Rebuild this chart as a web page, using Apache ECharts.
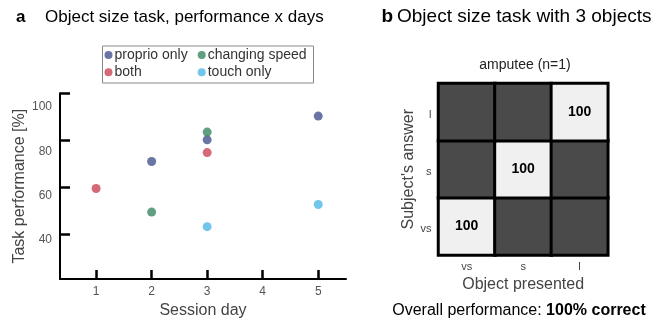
<!DOCTYPE html>
<html>
<head>
<meta charset="utf-8">
<script src="https://cdn.jsdelivr.net/npm/echarts@6/dist/echarts.min.js"></script>
<style>html,body{margin:0;padding:0;background:#fff;}#c{width:655px;height:324px;}</style>
</head>
<body>
<div id="c"></div>
<script>
// ---- Panel a data ----
const dayTicks = [1, 2, 3, 4, 5];
const perfTicks = [40, 60, 80, 100];
const proprioOnly = [[2, 71], [3, 80.2], [5, 90.3]];
const both = [[1, 59.5], [3, 74.8]];
const changingSpeed = [[2, 49.5], [3, 83.5]];
const touchOnly = [[3, 43.3], [5, 52.7]];
// ---- Panel b data ----
const objectsPresented = ['vs', 's', 'l'];
const subjectAnswers = ['vs', 's', 'l'];
const confusion = [
  [0, 0, 100], [1, 0, 0], [2, 0, 0],
  [0, 1, 0], [1, 1, 100], [2, 1, 0],
  [0, 2, 0], [1, 2, 0], [2, 2, 100]
];

const FONT = '"Liberation Sans", Arial, Helvetica, sans-serif';
const labelShift = {100: 13, 80: 11, 60: 8, 40: 5};
const yRich = {};
perfTicks.forEach(v => { yRich['l' + v] = {padding: [labelShift[v] * 2, 0, 0, 0], fontSize: 12, color: '#555', fontFamily: FONT}; });

const chart = echarts.init(document.getElementById('c'), null, {renderer: 'canvas'});
chart.setOption({
  backgroundColor: '#fff',
  animation: false,
  textStyle: {fontFamily: FONT},
  title: [
    {text: 'a', left: 16, top: 9, padding: 0, textStyle: {fontSize: 17, fontWeight: 'bold', color: '#000', lineHeight: 17, fontFamily: FONT}},
    {text: 'Object size task, performance x days', left: 45, top: 9, padding: 0, textStyle: {fontSize: 17, fontWeight: 'normal', color: '#000', lineHeight: 17, fontFamily: FONT}},
    {text: 'b', left: 381.5, top: 7.5, padding: 0, textStyle: {fontSize: 19, fontWeight: 'bold', color: '#000', lineHeight: 19, fontFamily: FONT}},
    {text: 'Object size task with 3 objects', left: 397, top: 7.5, padding: 0, textStyle: {fontSize: 19, fontWeight: 'normal', color: '#000', lineHeight: 19, fontFamily: FONT}},
    {text: 'amputee (n=1)', left: 525, top: 58, padding: 0, textAlign: 'center', textStyle: {fontSize: 14, fontWeight: 'normal', color: '#222', lineHeight: 14, fontFamily: FONT}},
    {text: '{r|Overall performance: }{b|100% correct}', left: 519, top: 303, padding: 0, textAlign: 'center',
     textStyle: {fontSize: 16, lineHeight: 16, fontWeight: 'normal', fontFamily: FONT, rich: {
       r: {fontSize: 16, color: '#000', fontWeight: 'normal', fontFamily: FONT},
       b: {fontSize: 16, color: '#000', fontWeight: 'bold', fontFamily: FONT}}}}
  ],
  legend: [
    {orient: 'vertical', left: 104.5, top: 48, padding: 0, itemGap: 3.3, itemWidth: 8, itemHeight: 8, icon: 'circle',
     data: ['proprio only', 'both'],
     textStyle: {fontSize: 14, color: '#333', lineHeight: 14, fontFamily: FONT, padding: [0, 0, 0, -3]}},
    {orient: 'vertical', left: 197.7, top: 48, padding: 0, itemGap: 3.3, itemWidth: 8, itemHeight: 8, icon: 'circle',
     data: ['changing speed', 'touch only'],
     textStyle: {fontSize: 14, color: '#333', lineHeight: 14, fontFamily: FONT, padding: [0, 0, 0, -3]}}
  ],
  graphic: [
    {type: 'rect', left: 100, top: 43.5, shape: {width: 211, height: 37}, style: {fill: 'none', stroke: '#8a8a8a', lineWidth: 1}, z: 10}
  ],
  grid: [
    {left: 60, top: 93.3, width: 286, height: 187.4},
    {left: 438.5, top: 83.5, width: 169.3, height: 171.5}
  ],
  xAxis: [
    {gridIndex: 0, type: 'value', min: 0.35, max: 5.5,
     name: 'Session day', nameLocation: 'middle', nameGap: 19,
     nameTextStyle: {fontSize: 16, color: '#444', fontFamily: FONT},
     axisLine: {show: true, lineStyle: {color: '#000', width: 2}},
     axisTick: {show: true, inside: true, length: 9, customValues: dayTicks, lineStyle: {color: '#000', width: 2.5}},
     axisLabel: {show: true, customValues: dayTicks, margin: 7, fontSize: 12, color: '#555', fontFamily: FONT},
     splitLine: {show: false}},
    {gridIndex: 1, type: 'category', data: objectsPresented,
     name: 'Object presented', nameLocation: 'middle', nameGap: 21,
     nameTextStyle: {fontSize: 16, color: '#444', fontFamily: FONT},
     axisLine: {show: false}, axisTick: {show: false},
     axisLabel: {margin: 6, fontSize: 11, color: '#444', fontFamily: FONT},
     splitLine: {show: false}, splitArea: {show: false}}
  ],
  yAxis: [
    {gridIndex: 0, type: 'value', min: 21, max: 100,
     name: 'Task performance [%]', nameLocation: 'middle', nameGap: 30,
     nameTextStyle: {fontSize: 16, color: '#444', fontFamily: FONT},
     axisLine: {show: true, lineStyle: {color: '#000', width: 2}},
     axisTick: {show: true, inside: true, length: 10, customValues: perfTicks, lineStyle: {color: '#000', width: 2.5}},
     axisLabel: {show: true, customValues: perfTicks, margin: 8,
       formatter: v => '{l' + v + '|' + v + '}', rich: yRich},
     splitLine: {show: false}},
    {gridIndex: 1, type: 'category', data: subjectAnswers,
     name: "Subject's answer", nameLocation: 'middle', nameGap: 17,
     nameTextStyle: {fontSize: 16, color: '#444', fontFamily: FONT},
     axisLine: {show: false}, axisTick: {show: false},
     axisLabel: {margin: 7, fontSize: 11, color: '#444', fontFamily: FONT,
       formatter: v => '{t|' + v + '}', rich: {t: {padding: [5, 0, 0, 0], fontSize: 11, color: '#444', fontFamily: FONT}}},
     splitLine: {show: false}, splitArea: {show: false}}
  ],
  visualMap: {show: false, type: 'piecewise', seriesIndex: 4, dimension: 2,
    pieces: [{lt: 50, color: '#4a4a4a'}, {gte: 50, color: '#f0f0f0'}]},
  series: [
    {name: 'proprio only', type: 'scatter', xAxisIndex: 0, yAxisIndex: 0, data: proprioOnly, symbolSize: 9, itemStyle: {color: '#44548f'}},
    {name: 'both', type: 'scatter', xAxisIndex: 0, yAxisIndex: 0, data: both, symbolSize: 9, itemStyle: {color: '#cc4455'}},
    {name: 'changing speed', type: 'scatter', xAxisIndex: 0, yAxisIndex: 0, data: changingSpeed, symbolSize: 9, itemStyle: {color: '#398760'}},
    {name: 'touch only', type: 'scatter', xAxisIndex: 0, yAxisIndex: 0, data: touchOnly, symbolSize: 9, itemStyle: {color: '#4fb8e6'}},
    {name: 'confusion', type: 'heatmap', xAxisIndex: 1, yAxisIndex: 1, data: confusion,
     itemStyle: {borderColor: '#000', borderWidth: 3},
     label: {show: true, fontSize: 14, fontWeight: 'bold', color: '#000', fontFamily: FONT,
       formatter: p => p.value[2] > 0 ? String(p.value[2]) : ''},
     emphasis: {disabled: true}}
  ]
});
</script>
</body>
</html>
